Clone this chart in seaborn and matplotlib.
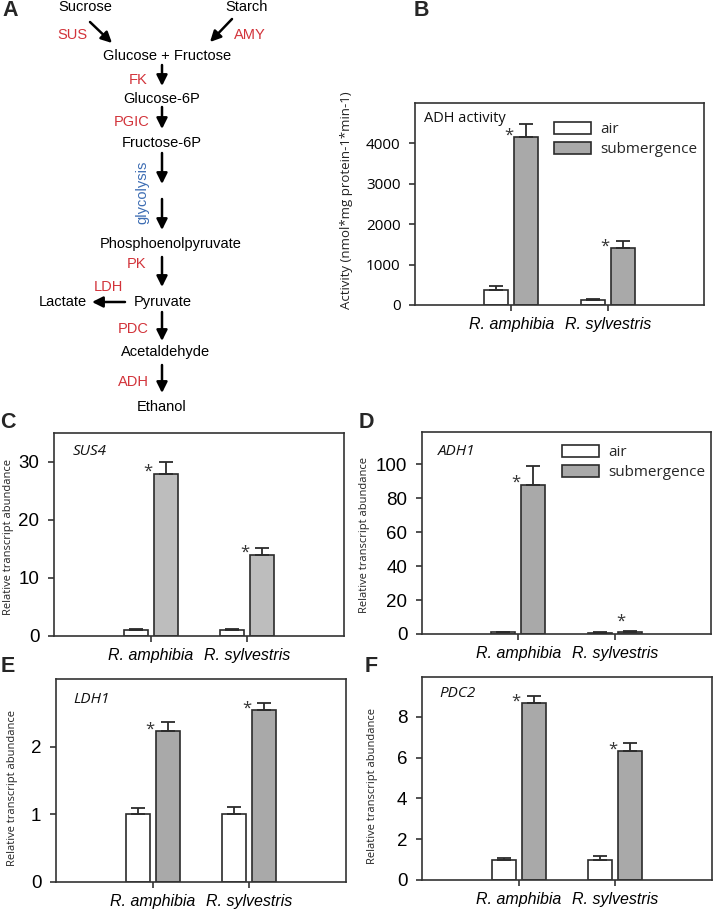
import matplotlib
matplotlib.use("Agg")
import matplotlib.pyplot as plt
import seaborn as sns
import pandas as pd
from matplotlib.patches import Rectangle

# ---------------- data ----------------
species = ["R. amphibia", "R. sylvestris"]
conditions = ["air", "submergence"]

# B: ADH enzyme activity (nmol*mg protein-1*min-1)
adh_act_air = [370, 125]
adh_act_air_err = [105, 25]
adh_act_sub = [4150, 1400]
adh_act_sub_err = [330, 195]

# C: SUS4
sus4_air = [1.0, 1.0]
sus4_air_err = [0.15, 0.15]
sus4_sub = [28.0, 14.0]
sus4_sub_err = [2.0, 1.2]

# D: ADH1
adh1_air = [1.0, 0.8]
adh1_air_err = [0.2, 0.2]
adh1_sub = [88.0, 1.3]
adh1_sub_err = [11.0, 0.3]

# E: LDH1
ldh1_air = [1.0, 1.0]
ldh1_air_err = [0.10, 0.11]
ldh1_sub = [2.23, 2.54]
ldh1_sub_err = [0.13, 0.11]

# F: PDC2
pdc2_air = [1.0, 1.0]
pdc2_air_err = [0.09, 0.19]
pdc2_sub = [8.66, 6.32]
pdc2_sub_err = [0.37, 0.41]

# ---------------- setup ----------------
sns.set_theme(style="ticks")
plt.rcParams["font.family"] = ["Liberation Sans", "DejaVu Sans"]

W, H = 714, 910
fig = plt.figure(figsize=(W / 100, H / 100), dpi=100)

EDGE = "#2b2b2b"
RED = "#d2333a"
BLUE = "#3d6db3"


def px_axes(l, t, r, b):
    return fig.add_axes([l / W, 1 - b / H, (r - l) / W, (b - t) / H])


# ---------------- Panel A: pathway diagram ----------------
ax0 = fig.add_axes([0, 0, 1, 1])
ax0.set_xlim(0, W)
ax0.set_ylim(H, 0)
ax0.axis("off")

fs = 10.5
metabolites = [
    ("Sucrose", 85, 7), ("Starch", 247, 7), ("Glucose + Fructose", 167, 56),
    ("Glucose-6P", 162, 99), ("Fructose-6P", 162, 143),
    ("Phosphoenolpyruvate", 171, 244), ("Pyruvate", 163, 302),
    ("Lactate", 63, 302), ("Acetaldehyde", 166, 352), ("Ethanol", 162, 407),
]
for name, x, y in metabolites:
    ax0.text(x, y, name, fontsize=fs, ha="center", va="center", color="black")

enzymes = [
    ("SUS", 72, 35), ("AMY", 250, 35), ("FK", 138, 80), ("PGIC", 132, 122),
    ("PK", 136, 264), ("LDH", 108, 287), ("PDC", 133, 329), ("ADH", 133, 382),
]
for name, x, y in enzymes:
    ax0.text(x, y, name, fontsize=fs, ha="center", va="center", color=RED)

ax0.text(142, 192, "glycolysis", fontsize=fs, ha="center", va="center",
         color=BLUE, rotation=90)

arrows = [
    ((90, 22), (112, 43)), ((232, 19), (210, 42)),
    ((162, 65), (162, 86)), ((162, 107), (162, 129)),
    ((162, 153), (162, 184)), ((162, 199), (162, 230)),
    ((162, 257), (162, 287)), ((125, 302), (92, 302)),
    ((162, 312), (162, 341)), ((162, 365), (162, 393)),
]
for (x0, y0), (x1, y1) in arrows:
    ax0.annotate("", xy=(x1, y1), xytext=(x0, y0),
                 arrowprops=dict(arrowstyle="-|>", lw=1.8, color="black",
                                 mutation_scale=16, shrinkA=0, shrinkB=0))

for letter, x, y in [("A", 10, 11), ("B", 421, 10), ("C", 8, 423),
                     ("D", 366, 423), ("E", 8, 667), ("F", 371, 667)]:
    ax0.text(x, y, letter, fontsize=15.5, fontweight="bold", ha="center",
             va="center")


# ---------------- bar panels ----------------
def bar_panel(ax, air, air_err, sub, sub_err, ylim, yticks, sub_color,
              gene, gene_xy, ylabel, ylabel_xy, tick_font, tick_fs,
              label_style="italic", legend_xy=None, star_offsets=None):
    df = pd.DataFrame({
        "species": species * 2,
        "condition": ["air"] * 2 + ["submergence"] * 2,
        "value": air + sub,
    })
    sns.barplot(data=df, x="species", y="value", hue="condition",
                order=species, hue_order=conditions,
                palette={"air": "white", "submergence": sub_color},
                saturation=1, width=0.62, gap=0.2, edgecolor=EDGE,
                linewidth=1.2, errorbar=None, legend=False, ax=ax)
    errs = {("air", 0): air_err[0], ("air", 1): air_err[1],
            ("submergence", 0): sub_err[0], ("submergence", 1): sub_err[1]}
    for p in ax.patches:
        xc = p.get_x() + p.get_width() / 2
        g = int(round(xc))
        cond = "air" if xc < g else "submergence"
        h = p.get_height()
        ax.errorbar(xc, h, yerr=[[0], [errs[(cond, g)]]], fmt="none",
                    ecolor=EDGE, elinewidth=1.3, capsize=5, capthick=1.3,
                    zorder=3)
        if cond == "submergence":
            off = (-4.3, 1.2)
            if star_offsets and g in star_offsets:
                off = star_offsets[g]
            ax.annotate("*", xy=(p.get_x(), h), xytext=off,
                        textcoords="offset points", ha="center", va="center",
                        fontsize=12, color="#333333", family="Open Sans")
    ax.set_xlim(-1, 2)
    ax.set_ylim(*ylim)
    ax.set_yticks(yticks)
    ax.set_xlabel("")
    for s in ax.spines.values():
        s.set_visible(True)
        s.set_color("#333333")
        s.set_linewidth(1.2)
    ax.tick_params(axis="both", direction="out", length=4.5, width=1.2,
                   color="#333333", top=False, right=False)
    ax.tick_params(axis="y", pad=6)
    ax.tick_params(axis="x", pad=4)
    for t in ax.get_yticklabels():
        t.set_fontfamily(tick_font)
        t.set_fontsize(tick_fs)
        t.set_color("black")
    for t in ax.get_xticklabels():
        t.set_fontstyle("italic")
        t.set_fontsize(11.5)
        t.set_color("black")
    ax.set_ylabel(ylabel, family="Open Sans",
                  fontsize=9.5 if gene is None else 8, color="#222222")
    ax.yaxis.set_label_coords(*ylabel_xy)
    ax.text(gene_xy[0], gene_xy[1], gene if gene else "ADH activity",
            transform=ax.transAxes, ha="left", va="center",
            fontsize=11 if gene else 10.5,
            family="Open Sans", style=label_style if gene else "normal",
            color="#111111")
    if legend_xy is not None:
        handles = [Rectangle((0, 0), 1, 1, facecolor="white", edgecolor=EDGE,
                             lw=1.2),
                   Rectangle((0, 0), 1, 1, facecolor=sub_color,
                             edgecolor=EDGE, lw=1.2)]
        ax.legend(handles, conditions, loc="upper left",
                  bbox_to_anchor=legend_xy, frameon=False,
                  borderpad=0, borderaxespad=0, handlelength=2.45,
                  handleheight=0.8, handletextpad=0.6,
                  labelspacing=0.3, prop={"family": "Open Sans", "size": 11})


GRAY = "#a9a9a9"
LIGHT = "#bdbdbd"
REL = "Relative transcript abundance"

axB = px_axes(415, 103, 704, 305)
bar_panel(axB, adh_act_air, adh_act_air_err, adh_act_sub, adh_act_sub_err,
          (0, 5000), [0, 1000, 2000, 3000, 4000], GRAY, None, (0.03, 0.925),
          "Activity (nmol*mg protein-1*min-1)", (-0.215, 0.52),
          "Open Sans", 11, legend_xy=(0.481, 0.905))

axC = px_axes(54, 433, 344, 636)
bar_panel(axC, sus4_air, sus4_air_err, sus4_sub, sus4_sub_err,
          (0, 35), [0, 10, 20, 30], LIGHT, "SUS4", (0.066, 0.909),
          REL, (-0.138, 0.49), "Liberation Sans", 13.5)

axD = px_axes(422, 432, 711, 634)
bar_panel(axD, adh1_air, adh1_air_err, adh1_sub, adh1_sub_err,
          (0, 119), [0, 20, 40, 60, 80, 100], GRAY, "ADH1", (0.055, 0.904),
          REL, (-0.18, 0.49), "Liberation Sans", 13.5,
          legend_xy=(0.483, 0.935), star_offsets={1: (2.0, 7.0)})

axE = px_axes(56, 679, 346, 882)
bar_panel(axE, ldh1_air, ldh1_air_err, ldh1_sub, ldh1_sub_err,
          (0, 3.0), [0, 1, 2], GRAY, "LDH1", (0.059, 0.898),
          REL, (-0.131, 0.465), "Liberation Sans", 13.5)

axF = px_axes(422, 677, 712, 880)
bar_panel(axF, pdc2_air, pdc2_air_err, pdc2_sub, pdc2_sub_err,
          (0, 9.95), [0, 2, 4, 6, 8], GRAY, "PDC2", (0.059, 0.921),
          REL, (-0.152, 0.465), "Liberation Sans", 13.5)

fig.savefig("out.png", dpi=100)
